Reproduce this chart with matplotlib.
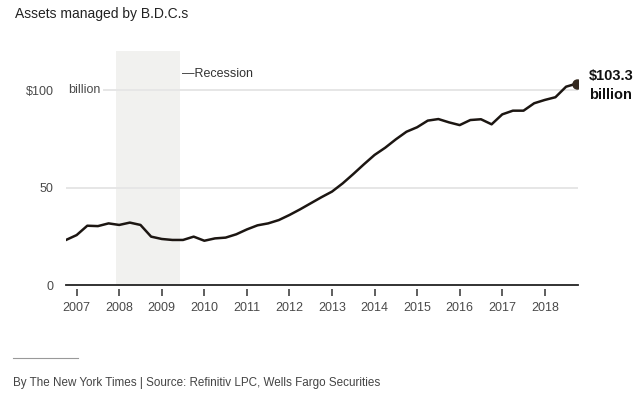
import matplotlib.pyplot as plt

# quarterly assets managed by B.D.C.s, $ billion (Q3 2006 - Q3 2018)
start_year = 2006.75
assets = [23.1, 25.6, 30.4, 30.2, 31.6, 30.8, 32.0, 30.8, 24.8, 23.6,
          23.1, 23.1, 24.8, 22.7, 23.9, 24.3, 26.0, 28.5, 30.6, 31.6,
          33.3, 35.9, 38.8, 41.9, 45.0, 47.9, 52.1, 56.9, 61.9, 66.7,
          70.4, 74.7, 78.6, 80.9, 84.3, 85.1, 83.4, 82.0, 84.6, 85.0,
          82.4, 87.5, 89.4, 89.4, 93.2, 94.9, 96.3, 101.7, 103.3]
years = [start_year + 0.25 * i for i in range(len(assets))]

year_ticks = list(range(2007, 2019))
year_labels = [str(y) for y in year_ticks]
y_ticks = [0, 50, 100]
y_labels = ["0", "50", "$100"]
recession = (2007.92, 2009.42)

fig = plt.figure(figsize=(6.4, 3.99), dpi=100)
ax = fig.add_axes([66 / 640, 114 / 399, 512 / 640, 234 / 399])

ax.axvspan(recession[0], recession[1], color="#f1f1ef", lw=0, zorder=0)

# gridlines (100 line starts after the "billion" label)
ax.axhline(50, color="#e6e6e6", lw=1.4, zorder=1)
ax.axhline(100, xmin=38 / 512, color="#e6e6e6", lw=1.4, zorder=1)

ax.plot(years, assets, color="#1c1612", lw=1.8, zorder=3, solid_joinstyle="round")
ax.plot(years[-1], assets[-1], "o", color="#33281e", ms=6.5, zorder=4)

ax.set_xlim(start_year, 2018.78)
ax.set_ylim(0, 120)

for s in ["top", "right", "left"]:
    ax.spines[s].set_visible(False)
ax.spines["bottom"].set_color("#222222")
ax.spines["bottom"].set_linewidth(1.3)

ax.set_xticks(year_ticks)
ax.set_xticklabels(year_labels)
ax.set_yticks(y_ticks)
ax.set_yticklabels(y_labels)
ax.tick_params(axis="x", length=0, pad=12, labelsize=9, labelcolor="#4a4a4a")
ax.tick_params(axis="y", length=0, pad=9, labelsize=9, labelcolor="#4a4a4a")
for lab in ax.get_xticklabels() + ax.get_yticklabels():
    lab.set_family("Liberation Sans")

# detached tick marks below the baseline
tr = ax.get_xaxis_transform()
ax.vlines(year_ticks, -4 / 234, -11 / 234, transform=tr, color="#333333",
          lw=1.1, clip_on=False)

ax.text(2006.75 + 2 / 42.67, 100, "billion", va="center", ha="left",
        fontsize=9, color="#4a4a4a", family="Liberation Sans")
ax.text(2009.47, 108.2, "\u2014Recession", va="center", ha="left",
        fontsize=9, color="#333333", family="Liberation Sans")
ax.text(2019.04, 102.3, "$103.3\nbillion", va="center", ha="left",
        multialignment="left", fontsize=10.5, fontweight="bold",
        color="#111111", family="Liberation Sans", linespacing=1.4)

fig.text(15 / 640, 1 - 14 / 399, "Assets managed by B.D.C.s", va="center",
         ha="left", fontsize=10, color="#222222", family="Liberation Sans")

fig.add_artist(plt.Line2D([13 / 640, 78 / 640], [1 - 358 / 399, 1 - 358 / 399],
                          color="#999999", lw=0.8))
fig.text(13 / 640, 1 - 383 / 399,
         "By The New York Times | Source: Refinitiv LPC, Wells Fargo Securities",
         va="center", ha="left", fontsize=8.35, color="#444444",
         family="Liberation Sans")

fig.savefig("out.png", dpi=100)
